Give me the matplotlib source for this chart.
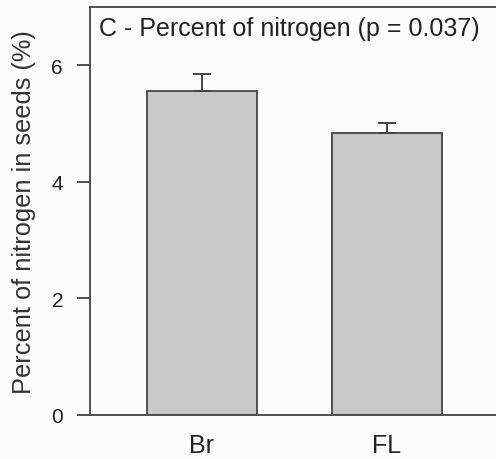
import matplotlib
matplotlib.use("Agg")
import matplotlib.pyplot as plt

# data
groups = ["Br", "FL"]
means = [5.56, 4.84]
errs = [0.29, 0.17]

EDGE = "#444444"
FILL = "#c8c8c8"

plt.rcParams["font.family"] = ["Liberation Sans", "DejaVu Sans"]

fig = plt.figure(figsize=(4.96, 4.60), dpi=100)
fig.patch.set_facecolor("#fcfcfd")
ax = fig.add_axes([90 / 496, 1 - 416 / 460, 406 / 496, 408 / 460])
ax.set_facecolor("#fcfcfd")

x = [1, 2]
ax.bar(x, means, width=0.595, color=FILL, edgecolor=EDGE, linewidth=1.3, zorder=2)
ax.errorbar(x, means, yerr=[[0, 0], errs], fmt="none", ecolor=EDGE,
            elinewidth=1.4, capsize=6.8, capthick=1.4, zorder=3)

ax.set_xlim(0.395, 0.395 + 406 / 185)
ax.set_ylim(0, 7)
ax.set_yticks([0, 2, 4, 6])
ax.set_xticks(x)
ax.set_xticklabels(groups)

for s in ["left", "top", "bottom"]:
    ax.spines[s].set_color(EDGE)
    ax.spines[s].set_linewidth(1.3)
ax.spines["right"].set_visible(False)

ax.tick_params(axis="y", direction="out", length=9.4, width=1.3, color=EDGE,
               labelsize=15, labelcolor="#222222", pad=10)
ax.tick_params(axis="x", direction="in", length=7, width=1.3, color=EDGE,
               labelsize=18, labelcolor="#222222", pad=13)

ax.set_ylabel("Percent of nitrogen in seeds (%)", fontsize=18.3, color="#333333",
              labelpad=11)
ax.text(0.022, 0.931, "C - Percent of nitrogen (p = 0.037)", transform=ax.transAxes,
        fontsize=18, color="#222222", ha="left", va="baseline")

fig.savefig("out.png", dpi=100, facecolor=fig.get_facecolor())
